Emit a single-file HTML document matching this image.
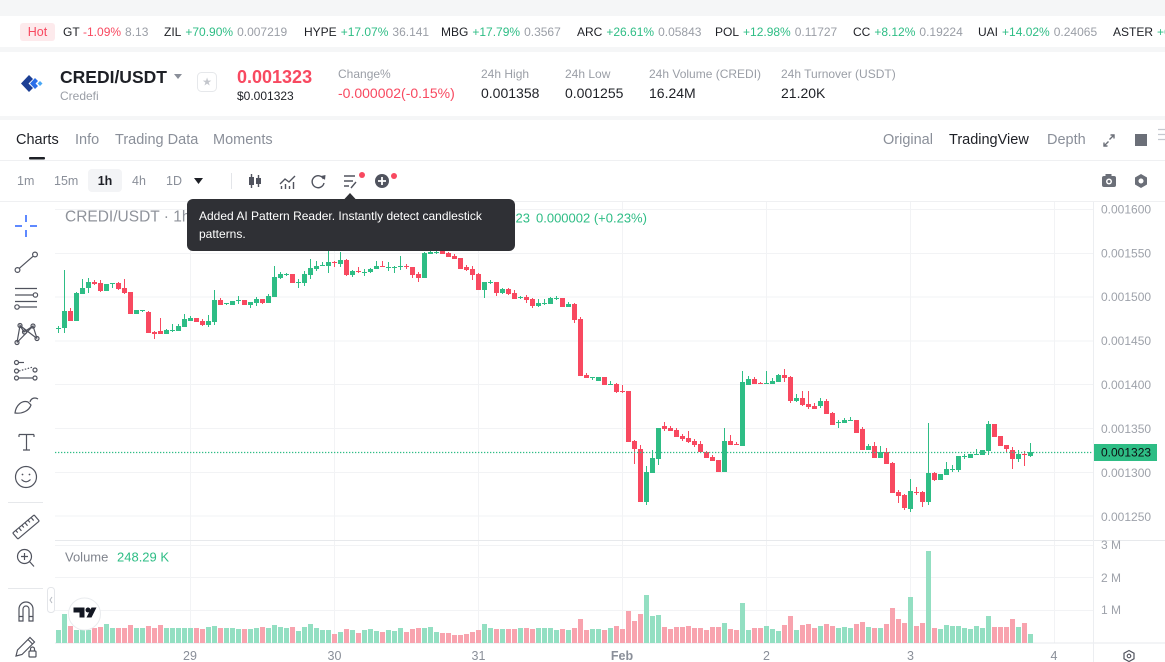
<!DOCTYPE html>
<html><head><meta charset="utf-8">
<style>
*{margin:0;padding:0;box-sizing:border-box}
html,body{width:1165px;height:662px;overflow:hidden;background:#f5f6f7}
svg{display:block}
</style></head><body>
<svg width="1165" height="662" viewBox="0 0 1165 662" font-family="'Liberation Sans', Arial, sans-serif">
<rect width="1165" height="662" fill="#f5f6f7"/>
<rect x="0" y="16" width="1165" height="31" fill="#fff"/>
<rect x="0" y="52" width="1165" height="64" fill="#fff"/>
<rect x="0" y="120" width="1165" height="542" fill="#fff"/>

<!-- ticker -->
<g font-size="12" dominant-baseline="central">
<rect x="20" y="23" width="35" height="18" rx="3" fill="#fdeaec"/>
<text x="37.5" y="32" text-anchor="middle" fill="#f84960" font-size="12.5">Hot</text>
<text x="63" y="32"><tspan fill="#1e2026">GT</tspan><tspan dx="4" fill="#f84960">-1.09%</tspan><tspan dx="4" fill="#9a9ea6">8.13</tspan></text>
<text x="164" y="32"><tspan fill="#1e2026">ZIL</tspan><tspan dx="4" fill="#2ebd85">+70.90%</tspan><tspan dx="4" fill="#9a9ea6">0.007219</tspan></text>
<text x="304" y="32"><tspan fill="#1e2026">HYPE</tspan><tspan dx="4" fill="#2ebd85">+17.07%</tspan><tspan dx="4" fill="#9a9ea6">36.141</tspan></text>
<text x="441" y="32"><tspan fill="#1e2026">MBG</tspan><tspan dx="4" fill="#2ebd85">+17.79%</tspan><tspan dx="4" fill="#9a9ea6">0.3567</tspan></text>
<text x="577" y="32"><tspan fill="#1e2026">ARC</tspan><tspan dx="4" fill="#2ebd85">+26.61%</tspan><tspan dx="4" fill="#9a9ea6">0.05843</tspan></text>
<text x="715" y="32"><tspan fill="#1e2026">POL</tspan><tspan dx="4" fill="#2ebd85">+12.98%</tspan><tspan dx="4" fill="#9a9ea6">0.11727</tspan></text>
<text x="853" y="32"><tspan fill="#1e2026">CC</tspan><tspan dx="4" fill="#2ebd85">+8.12%</tspan><tspan dx="4" fill="#9a9ea6">0.19224</tspan></text>
<text x="978" y="32"><tspan fill="#1e2026">UAI</tspan><tspan dx="4" fill="#2ebd85">+14.02%</tspan><tspan dx="4" fill="#9a9ea6">0.24065</tspan></text>
<text x="1113" y="32"><tspan fill="#1e2026">ASTER</tspan><tspan dx="4" fill="#2ebd85">+6.52%</tspan></text>
</g>

<!-- header -->
<g>
<polygon points="29,75 21,83.5 29,92 33,88 28.5,83.5 33,79" fill="#1c3f94"/>
<polygon points="35,78 30,83.5 35,89 38,86 35.5,83.5 38,81" fill="#2a6ee8"/>
<polygon points="40,81 42.5,83.5 40,86 37.5,83.5" fill="#49a7f5"/>
</g>
<g dominant-baseline="central">
<text x="60" y="77" font-size="17.5" font-weight="bold" fill="#1e2026">CREDI/USDT</text>
<polygon points="174,74 182,74 178,79" fill="#8a8f99"/>
<text x="60" y="96" font-size="12" fill="#9a9ea6">Credefi</text>
<rect x="197.5" y="72.5" width="19" height="19" rx="4" fill="#fff" stroke="#e6e8eb"/>
<text x="207" y="82.5" font-size="11" fill="#c3c6cc" text-anchor="middle">★</text>
<text x="237" y="77" font-size="18" font-weight="bold" fill="#f84960">0.001323</text>
<text x="237" y="96" font-size="12" fill="#1e2026">$0.001323</text>
<g font-size="12" fill="#9a9ea6">
<text x="338" y="74">Change%</text>
<text x="481" y="74">24h High</text>
<text x="565" y="74">24h Low</text>
<text x="649" y="74">24h Volume (CREDI)</text>
<text x="781" y="74">24h Turnover (USDT)</text>
</g>
<g font-size="14" fill="#1e2026">
<text x="338" y="93" fill="#f84960">-0.000002(-0.15%)</text>
<text x="481" y="93">0.001358</text>
<text x="565" y="93">0.001255</text>
<text x="649" y="93">16.24M</text>
<text x="781" y="93">21.20K</text>
</g>

<!-- tabs -->
<g font-size="14.5" fill="#8a8f99">
<text x="16" y="140" fill="#1e2026">Charts</text>
<text x="75" y="140">Info</text>
<text x="115" y="140">Trading Data</text>
<text x="213" y="140">Moments</text>
<text x="883" y="140">Original</text>
<text x="949" y="140" fill="#1e2026">TradingView</text>
<text x="1047" y="140">Depth</text>
</g>
<rect x="29" y="157" width="16" height="2.5" rx="1" fill="#1e2026"/>
<g stroke="#6b6f78" stroke-width="1.4" fill="none">
<path d="M1104 146L1108.5 141.5M1114 135L1109.5 139.5"/>
<path d="M1104 142.5V146H1107.5M1110.5 135H1114V138.5"/>
</g>
<rect x="1135" y="134" width="12" height="12" fill="#6b6f78"/>
<path d="M1158 129.5H1165M1158 134.5H1165M1158 139.5H1165" stroke="#c5c9d0" stroke-width="1.2"/>
<line x1="0" y1="160.5" x2="1165" y2="160.5" stroke="#eff0f2"/>

<!-- timeframe toolbar -->
<g font-size="12.5" fill="#8a8f99">
<text x="17" y="181">1m</text>
<text x="54" y="181">15m</text>
<rect x="88" y="169" width="34" height="23" rx="4" fill="#f3f4f6"/>
<text x="105" y="181" text-anchor="middle" fill="#1e2026" font-weight="bold">1h</text>
<text x="132" y="181">4h</text>
<text x="166" y="181">1D</text>
</g>
<polygon points="194,178 203,178 198.5,184" fill="#1e2026"/>
<line x1="231.5" y1="173" x2="231.5" y2="189" stroke="#e3e5e9"/>
<g stroke="#50535e" stroke-width="1.4" fill="none">
<path d="M251.5 174V188M258.5 175V187"/>
<path d="M280 184L285 179L289 182L295 176"/>
<path d="M281.5 189V186M285.5 189V184M289.5 189V186M293.5 189V182"/>
<path d="M323.5 179A6 6 0 1 0 324 183"/>
<path d="M344 176H355M344 181H353M344 186H349M351 188L356 182"/>
</g>
<rect x="249" y="177" width="5" height="8" fill="#50535e"/>
<rect x="256" y="178" width="5" height="6" fill="#50535e"/>
<polygon points="321,176 325.5,175 325,180" fill="#50535e"/>
<circle cx="362" cy="175" r="3" fill="#f84960"/>
<circle cx="382" cy="181" r="7" fill="#50535e"/>
<path d="M378 181H386M382 177V185" stroke="#fff" stroke-width="1.8"/>
<circle cx="394" cy="176" r="3" fill="#f84960"/>
<rect x="1102" y="176" width="14" height="11" rx="2" fill="#6b6f78"/>
<rect x="1105.5" y="174" width="6" height="3" fill="#6b6f78"/>
<circle cx="1109" cy="181.5" r="3" fill="#fff"/>
<circle cx="1109" cy="181.5" r="1.5" fill="#6b6f78"/>
<polygon points="1141,174 1147,177.5 1147,184.5 1141,188 1135,184.5 1135,177.5" fill="#6b6f78"/>
<circle cx="1141" cy="181" r="2.5" fill="#fff"/>
<line x1="0" y1="201.5" x2="1165" y2="201.5" stroke="#eff0f2"/>
</g>

<!-- grid -->
<g stroke="#f2f3f5" stroke-width="1">
<path d="M55 209.5H1093M55 253.5H1093M55 297H1093M55 341H1093M55 384.5H1093M55 428.5H1093M55 472.5H1093M55 516H1093"/>
<path d="M55 545.5H1093M55 577.5H1093M55 610.5H1093"/>
<path d="M190.5 202V643M334.5 202V643M478.5 202V643M622.5 202V643M766.5 202V643M910.5 202V643M1054.5 202V643"/>
</g>
<line x1="55" y1="540.5" x2="1165" y2="540.5" stroke="#e7e9ec"/>
<line x1="55" y1="643" x2="1165" y2="643" stroke="#e7e9ec"/>
<line x1="1093.5" y1="202" x2="1093.5" y2="662" stroke="#eceef1"/>

<!-- volume -->
<path fill="#93dfc2" d="M56 630h5V643h-5zM62 614h5V643h-5zM74 630h5V643h-5zM80 630h5V643h-5zM86 630h5V643h-5zM104 624h5V643h-5zM110 628h5V643h-5zM134 628h5V643h-5zM140 628h5V643h-5zM164 628h5V643h-5zM170 628h5V643h-5zM176 628h5V643h-5zM182 628h5V643h-5zM188 628h5V643h-5zM206 627h5V643h-5zM212 626h5V643h-5zM224 628h5V643h-5zM230 628h5V643h-5zM236 629h5V643h-5zM248 629h5V643h-5zM254 628h5V643h-5zM266 628h5V643h-5zM272 625h5V643h-5zM278 627h5V643h-5zM284 628h5V643h-5zM296 631h5V643h-5zM302 627h5V643h-5zM308 624h5V643h-5zM314 628h5V643h-5zM320 630h5V643h-5zM326 630h5V643h-5zM338 632h5V643h-5zM350 630h5V643h-5zM362 630h5V643h-5zM368 629h5V643h-5zM374 631h5V643h-5zM386 630h5V643h-5zM392 631h5V643h-5zM398 628h5V643h-5zM422 628h5V643h-5zM428 627h5V643h-5zM434 632h5V643h-5zM482 624h5V643h-5zM488 628h5V643h-5zM500 629h5V643h-5zM518 628h5V643h-5zM536 628h5V643h-5zM542 628h5V643h-5zM548 628h5V643h-5zM554 630h5V643h-5zM566 630h5V643h-5zM590 629h5V643h-5zM596 629h5V643h-5zM608 628h5V643h-5zM644 595h5V643h-5zM650 616h5V643h-5zM656 615h5V643h-5zM722 623h5V643h-5zM740 603h5V643h-5zM746 630h5V643h-5zM764 626h5V643h-5zM770 629h5V643h-5zM776 631h5V643h-5zM794 630h5V643h-5zM818 626h5V643h-5zM836 628h5V643h-5zM842 627h5V643h-5zM848 628h5V643h-5zM866 627h5V643h-5zM878 628h5V643h-5zM908 597h5V643h-5zM926 551h5V643h-5zM938 629h5V643h-5zM944 625h5V643h-5zM950 626h5V643h-5zM956 626h5V643h-5zM962 628h5V643h-5zM968 629h5V643h-5zM974 626h5V643h-5zM980 628h5V643h-5zM986 616h5V643h-5zM1016 627h5V643h-5zM1028 634h5V643h-5z"/>
<path fill="#f8a3ae" d="M68 626h5V643h-5zM92 628h5V643h-5zM98 627h5V643h-5zM116 628h5V643h-5zM122 628h5V643h-5zM128 625h5V643h-5zM146 626h5V643h-5zM152 628h5V643h-5zM158 625h5V643h-5zM194 628h5V643h-5zM200 629h5V643h-5zM218 628h5V643h-5zM242 629h5V643h-5zM260 627h5V643h-5zM290 627h5V643h-5zM332 634h5V643h-5zM344 629h5V643h-5zM356 633h5V643h-5zM380 632h5V643h-5zM404 632h5V643h-5zM410 629h5V643h-5zM416 628h5V643h-5zM440 633h5V643h-5zM446 633h5V643h-5zM452 635h5V643h-5zM458 635h5V643h-5zM464 634h5V643h-5zM470 632h5V643h-5zM476 630h5V643h-5zM494 629h5V643h-5zM506 629h5V643h-5zM512 629h5V643h-5zM524 628h5V643h-5zM530 629h5V643h-5zM560 629h5V643h-5zM572 628h5V643h-5zM578 619h5V643h-5zM584 630h5V643h-5zM602 630h5V643h-5zM614 626h5V643h-5zM620 629h5V643h-5zM626 611h5V643h-5zM632 621h5V643h-5zM638 614h5V643h-5zM662 627h5V643h-5zM668 629h5V643h-5zM674 627h5V643h-5zM680 627h5V643h-5zM686 626h5V643h-5zM692 628h5V643h-5zM698 628h5V643h-5zM704 630h5V643h-5zM710 627h5V643h-5zM716 627h5V643h-5zM728 629h5V643h-5zM734 630h5V643h-5zM752 628h5V643h-5zM758 628h5V643h-5zM782 625h5V643h-5zM788 616h5V643h-5zM800 625h5V643h-5zM806 624h5V643h-5zM812 628h5V643h-5zM824 624h5V643h-5zM830 626h5V643h-5zM854 624h5V643h-5zM860 622h5V643h-5zM872 628h5V643h-5zM884 624h5V643h-5zM890 608h5V643h-5zM896 619h5V643h-5zM902 623h5V643h-5zM914 626h5V643h-5zM920 623h5V643h-5zM932 628h5V643h-5zM992 627h5V643h-5zM998 627h5V643h-5zM1004 627h5V643h-5zM1010 619h5V643h-5zM1022 623h5V643h-5z"/>

<!-- candles -->
<path fill="none" stroke="#2ebd85" stroke-width="1" d="M58.5 326V333M64.5 270V333M76.5 292V321M82.5 279V294M88.5 278V293M106.5 284V291M112.5 283V288M136.5 310V314M142.5 310V312M166.5 329V334M172.5 324V332M178.5 324V331M184.5 314V327M190.5 316V321M208.5 315V327M214.5 290V325M226.5 303V305M232.5 301V305M238.5 296V304M250.5 302V308M256.5 297V306M268.5 294V303M274.5 266V297M280.5 272V279M286.5 273V276M298.5 279V288M304.5 271V286M310.5 259V279M316.5 261V271M322.5 262V266M328.5 251V273M340.5 252V267M352.5 270V277M364.5 269V276M370.5 268V273M376.5 261V269M388.5 262V271M394.5 266V273M400.5 256V270M424.5 252V278M430.5 251V254M436.5 250V254M484.5 282V298M490.5 280V284M502.5 288V294M520.5 296V299M538.5 299V307M544.5 299V305M550.5 297V304M556.5 296V300M568.5 302V307M592.5 377V380M598.5 377V381M610.5 381V385M646.5 466V505M652.5 450V473M658.5 428V465M724.5 428V472M742.5 371V446M748.5 376V385M766.5 371V384M772.5 378V384M778.5 374V382M796.5 394V402M820.5 398V408M838.5 420V428M844.5 418V423M850.5 417V421M868.5 444V450M880.5 446V458M910.5 479V512M928.5 423V505M940.5 474V480M946.5 462V475M952.5 465V472M958.5 456V472M964.5 454V459M970.5 454V458M976.5 449V455M982.5 450V455M988.5 421V455M1018.5 450V462M1030.5 443V457"/>
<path fill="#2ebd85" d="M56 328h5v1h-5zM62 311h5v17h-5zM74 293h5v28h-5zM80 288h5v6h-5zM86 282h5v6h-5zM104 284h5v7h-5zM110 283h5v1h-5zM134 310h5v4h-5zM140 310h5v1h-5zM164 330h5v4h-5zM170 330h5v1h-5zM176 326h5v5h-5zM182 319h5v8h-5zM188 318h5v3h-5zM206 321h5v4h-5zM212 300h5v22h-5zM224 303h5v1h-5zM230 301h5v4h-5zM236 300h5v1h-5zM248 302h5v3h-5zM254 299h5v4h-5zM266 296h5v7h-5zM272 277h5v20h-5zM278 274h5v4h-5zM284 274h5v1h-5zM296 282h5v1h-5zM302 274h5v9h-5zM308 268h5v7h-5zM314 266h5v3h-5zM320 265h5v1h-5zM326 262h5v4h-5zM338 260h5v4h-5zM350 271h5v4h-5zM362 272h5v1h-5zM368 269h5v3h-5zM374 266h5v3h-5zM386 267h5v1h-5zM392 267h5v1h-5zM398 266h5v1h-5zM422 253h5v25h-5zM428 252h5v2h-5zM434 252h5v1h-5zM482 282h5v8h-5zM488 282h5v1h-5zM500 289h5v4h-5zM518 297h5v1h-5zM536 303h5v3h-5zM542 303h5v1h-5zM548 298h5v6h-5zM554 298h5v1h-5zM566 304h5v3h-5zM590 377h5v1h-5zM596 377h5v4h-5zM608 384h5v1h-5zM644 472h5v30h-5zM650 458h5v15h-5zM656 428h5v31h-5zM722 441h5v31h-5zM740 382h5v64h-5zM746 379h5v6h-5zM764 383h5v1h-5zM770 381h5v3h-5zM776 375h5v7h-5zM794 398h5v3h-5zM818 401h5v5h-5zM836 422h5v1h-5zM842 420h5v3h-5zM848 420h5v1h-5zM866 446h5v4h-5zM878 452h5v6h-5zM908 491h5v18h-5zM926 473h5v29h-5zM938 474h5v6h-5zM944 469h5v6h-5zM950 469h5v1h-5zM956 456h5v14h-5zM962 456h5v1h-5zM968 454h5v4h-5zM974 454h5v1h-5zM980 450h5v5h-5zM986 424h5v27h-5zM1016 454h5v5h-5zM1028 452h5v4h-5z"/>
<path fill="none" stroke="#f84960" stroke-width="1" d="M70.5 308V321M94.5 280V285M100.5 280V292M118.5 282V290M124.5 279V294M130.5 292V314M148.5 311V333M154.5 331V339M160.5 318V334M196.5 318V322M202.5 319V326M220.5 298V305M244.5 300V305M262.5 299V304M292.5 274V283M334.5 261V267M346.5 259V276M358.5 267V273M382.5 261V267M406.5 264V269M412.5 267V278M418.5 272V282M442.5 249V254M448.5 252V257M454.5 254V259M460.5 258V269M466.5 265V271M472.5 266V280M478.5 273V290M496.5 282V296M508.5 288V295M514.5 290V299M526.5 295V303M532.5 298V308M562.5 298V307M574.5 303V323M580.5 317V376M586.5 373V378M604.5 377V385M616.5 383V393M622.5 385V393M628.5 391V442M634.5 440V464M640.5 445V502M664.5 422V431M670.5 426V431M676.5 428V437M682.5 434V441M688.5 431V443M694.5 439V447M700.5 441V452M706.5 451V458M712.5 455V461M718.5 460V472M730.5 435V445M736.5 442V445M754.5 377V384M760.5 382V384M784.5 369V382M790.5 376V403M802.5 391V406M808.5 391V409M814.5 403V409M826.5 399V414M832.5 412V425M856.5 420V433M862.5 427V450M874.5 442V458M886.5 448V464M892.5 462V493M898.5 490V503M904.5 494V510M916.5 487V495M922.5 491V507M934.5 472V481M994.5 424V437M1000.5 436V446M1006.5 445V452M1012.5 447V469M1024.5 451V466"/>
<path fill="#f84960" d="M68 311h5v10h-5zM92 282h5v2h-5zM98 283h5v8h-5zM116 283h5v6h-5zM122 288h5v5h-5zM128 292h5v22h-5zM146 312h5v21h-5zM152 332h5v2h-5zM158 331h5v3h-5zM194 318h5v4h-5zM200 321h5v4h-5zM218 300h5v5h-5zM242 300h5v5h-5zM260 299h5v4h-5zM290 274h5v9h-5zM332 262h5v1h-5zM344 260h5v15h-5zM356 271h5v1h-5zM380 266h5v1h-5zM404 266h5v1h-5zM410 267h5v8h-5zM416 274h5v4h-5zM440 250h5v4h-5zM446 253h5v4h-5zM452 256h5v3h-5zM458 258h5v11h-5zM464 267h5v3h-5zM470 269h5v6h-5zM476 274h5v16h-5zM494 282h5v11h-5zM506 289h5v5h-5zM512 293h5v6h-5zM524 297h5v3h-5zM530 299h5v7h-5zM560 298h5v9h-5zM572 304h5v16h-5zM578 319h5v57h-5zM584 375h5v3h-5zM602 377h5v8h-5zM614 384h5v8h-5zM620 391h5v1h-5zM626 391h5v51h-5zM632 441h5v8h-5zM638 449h5v53h-5zM662 426h5v3h-5zM668 428h5v3h-5zM674 430h5v7h-5zM680 436h5v3h-5zM686 438h5v4h-5zM692 441h5v4h-5zM698 444h5v8h-5zM704 452h5v6h-5zM710 457h5v4h-5zM716 460h5v12h-5zM728 441h5v4h-5zM734 444h5v1h-5zM752 379h5v5h-5zM758 383h5v1h-5zM782 375h5v3h-5zM788 377h5v24h-5zM800 398h5v7h-5zM806 404h5v3h-5zM812 406h5v3h-5zM824 401h5v13h-5zM830 413h5v12h-5zM854 420h5v13h-5zM860 429h5v21h-5zM872 446h5v12h-5zM884 452h5v12h-5zM890 463h5v30h-5zM896 492h5v4h-5zM902 495h5v13h-5zM914 492h5v1h-5zM920 492h5v10h-5zM932 473h5v7h-5zM992 424h5v13h-5zM998 436h5v10h-5zM1004 445h5v4h-5zM1010 450h5v9h-5zM1022 454h5v1h-5z"/>

<!-- current price line -->
<line x1="55" y1="452.5" x2="1093" y2="452.5" stroke="#2ebd85" stroke-width="1.3" stroke-dasharray="1.3 1.7"/>

<!-- axis labels -->
<g font-size="12" fill="#9ea2aa" dominant-baseline="central">
<text x="1101" y="209.5">0.001600</text>
<text x="1101" y="253.5">0.001550</text>
<text x="1101" y="297">0.001500</text>
<text x="1101" y="341">0.001450</text>
<text x="1101" y="385">0.001400</text>
<text x="1101" y="429">0.001350</text>
<text x="1101" y="473">0.001300</text>
<text x="1101" y="517">0.001250</text>
<text x="1101" y="545">3 M</text>
<text x="1101" y="578">2 M</text>
<text x="1101" y="610">1 M</text>
</g>
<rect x="1094" y="444" width="63" height="17" fill="#2ebd85"/>
<text x="1101" y="452.5" font-size="12" fill="#0b0e11" dominant-baseline="central">0.001323</text>
<g font-size="12.5" fill="#8a8f99" text-anchor="middle" dominant-baseline="central">
<text x="190" y="656">29</text>
<text x="334.5" y="656">30</text>
<text x="478.5" y="656">31</text>
<text x="622" y="656" font-weight="bold">Feb</text>
<text x="766.5" y="656">2</text>
<text x="910.5" y="656">3</text>
<text x="1054" y="656">4</text>
</g>
<polygon points="1129,650.5 1134,653.2 1134,658.8 1129,661.5 1124,658.8 1124,653.2" fill="none" stroke="#50535e" stroke-width="1.2"/>
<circle cx="1129" cy="656" r="1.8" fill="none" stroke="#50535e" stroke-width="1.1"/>

<!-- legends -->
<text x="65" y="217" font-size="15.5" fill="#8f939b" dominant-baseline="central">CREDI/USDT · 1h · Gate</text>
<text x="530" y="218" font-size="13" fill="#2ebd85" text-anchor="end" dominant-baseline="central">C0.001323</text>
<text x="536" y="218" font-size="13" fill="#2ebd85" dominant-baseline="central">0.000002 (+0.23%)</text>
<text x="65" y="557" font-size="13" fill="#80848d" dominant-baseline="central">Volume</text>
<text x="117" y="557" font-size="13" fill="#2ebd85" dominant-baseline="central">248.29 K</text>

<!-- TV logo -->
<circle cx="84.5" cy="614" r="16" fill="#fff" stroke="#e9ebee"/>
<path d="M73.5 607.5h11v10h-5v-5h-6z" fill="#131722"/>
<circle cx="88" cy="610" r="2.5" fill="#131722"/>
<path d="M91.5 607.5h5l-5 10h-5z" fill="#131722"/>

<!-- collapse tab -->
<rect x="47.5" y="587.5" width="7" height="25" rx="3" fill="#fff" stroke="#e3e5e9"/>
<path d="M52 597L50 600L52 603" fill="none" stroke="#b5b9c0" stroke-width="1"/>

<!-- left toolbar -->
<path d="M15 226H22M30 226H37M26 215V222M26 230V237" stroke="#2962ff" stroke-width="1.5"/>
<g stroke="#50535e" stroke-width="1.2" fill="none">
<circle cx="17.5" cy="270" r="2.4"/><circle cx="35" cy="254.5" r="2.4"/><path d="M19.3 268.3L33.2 256.2"/>
<path d="M15 288.5H37M15 295H33M15 301.5H37M19.5 307H37"/><circle cx="35.4" cy="295" r="2.2"/><circle cx="17" cy="307" r="2.2"/>
<path d="M17 342.5L20 325.5L24 332L33 326L37 338.5M17 342.5L33 326M20 325.5L37 338.5"/>
<circle cx="20" cy="325.5" r="2"/><circle cx="33" cy="326" r="2"/><circle cx="24.5" cy="332" r="2"/><circle cx="17" cy="342.5" r="2"/><circle cx="37" cy="338.5" r="2"/>
<circle cx="16.5" cy="362.5" r="2"/><path d="M19 362.5H24"/>
<circle cx="16.5" cy="371" r="2"/><path d="M19 371L33 367" stroke-dasharray="1.5 1.5"/><circle cx="35" cy="370" r="2"/>
<circle cx="16.5" cy="378" r="2"/><path d="M19 378H32.5"/><circle cx="35" cy="378" r="2"/>
<path d="M15 413C16 405 22 400 28 402L31 405C29 411 22 414 15 413Z"/><path d="M30 402C31 398 35 397 38 399"/>
<path d="M19 434.5H34M26.5 434.5V450M23 450H30M19 434.5V437M34 434.5V437"/>
<circle cx="26" cy="477" r="10.5"/><path d="M21.5 479.5Q26 484 30.5 479.5"/>
<g transform="rotate(-40 26 527)"><rect x="12" y="523" width="28" height="8" rx="1"/><path d="M16 523V526M20 523V527M24 523V526M28 523V527M32 523V526M36 523V527"/></g>
<circle cx="24.5" cy="556.5" r="7"/><path d="M21 556.5H28M24.5 553V560M29.5 561.5L34 566.5"/>
<path d="M19 621V609A7 7 0 0 1 33 609V621H29V609A3 3 0 0 0 23 609V621ZM19 616.5H23M29 616.5H33"/>
<path d="M16 656L17.5 650L30 637.5L34.5 642L22 654.5ZM28 639.5L32.5 644"/><rect x="29" y="651" width="7" height="6" rx="1"/><path d="M30.5 651V649A2 2 0 0 1 34.5 649V651"/>
</g>
<circle cx="22.5" cy="474.5" r="0.9" fill="#50535e"/><circle cx="29.5" cy="474.5" r="0.9" fill="#50535e"/>
<path d="M8 502.5H43M8 588.5H43" stroke="#e6e8eb"/>

<!-- tooltip -->
<polygon points="344,199.5 350,193 356,199.5" fill="#2f3035"/>
<rect x="187" y="199" width="328" height="52" rx="6" fill="#2f3035"/>
<g font-size="12" fill="#ffffff" dominant-baseline="central">
<text x="199" y="216">Added AI Pattern Reader. Instantly detect candlestick</text>
<text x="199" y="234">patterns.</text>
</g>
</svg>
</body></html>
